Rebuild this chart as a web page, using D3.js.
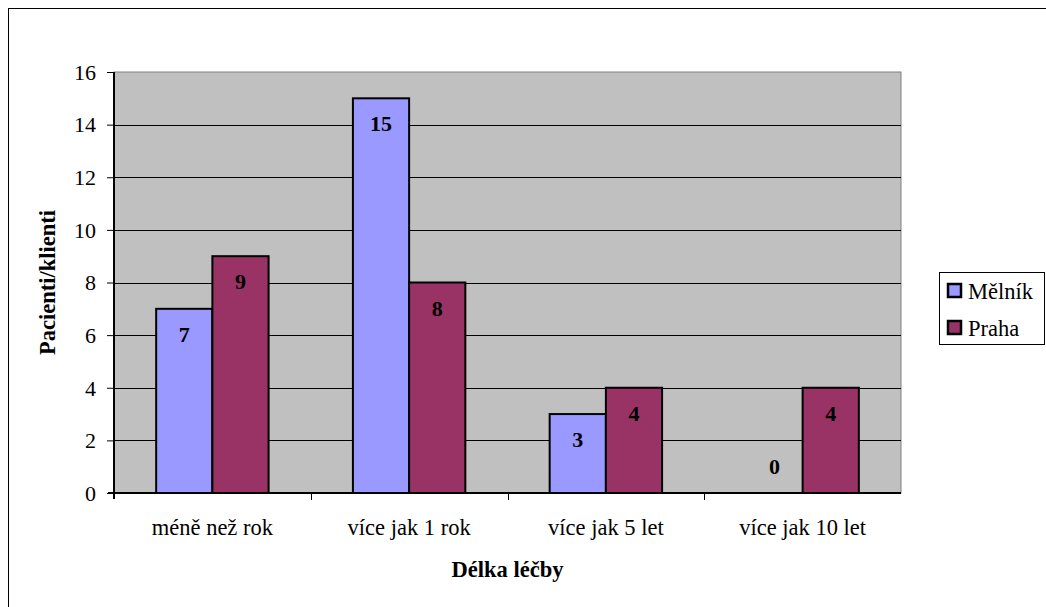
<!DOCTYPE html>
<html>
<head>
<meta charset="utf-8">
<script src="https://cdn.jsdelivr.net/npm/d3@7"></script>
<style>
  html, body { margin: 0; padding: 0; background: #fff; }
  svg { display: block; }
</style>
</head>
<body>
<svg id="chart" width="1046" height="607"></svg>
<script>
// Treatment duration categories and patient counts per clinic
const categories = ["méně než rok", "více jak 1 rok", "více jak 5 let", "více jak 10 let"];
const seriesNames = ["Mělník", "Praha"];
const melnik = [7, 15, 3, 0];
const praha = [9, 8, 4, 4];
const yTicks = [0, 2, 4, 6, 8, 10, 12, 14, 16];
const colors = ["#9999ff", "#993366"];

const FONT = "Liberation Serif";
const FS = 22.5;
const series = [melnik, praha];
const svg = d3.select("#chart").attr("font-family", FONT);

// outer frame
svg.append("rect").attr("x", 8.5).attr("y", 8.5).attr("width", 1046).attr("height", 620)
  .attr("fill", "none").attr("stroke", "#000").attr("stroke-width", 1);

const plot = { left: 114, right: 901, top: 72, bottom: 493 };

const x = d3.scaleBand().domain(categories).range([plot.left, plot.right]).paddingInner(0).paddingOuter(0);
const xs = d3.scaleBand().domain(seriesNames).range([0, x.bandwidth()]).paddingInner(0).paddingOuter(0.75);
const y = d3.scaleLinear().domain([0, 16]).range([plot.bottom, plot.top]);

// plot background
svg.append("rect").attr("x", plot.left).attr("y", plot.top)
  .attr("width", plot.right - plot.left).attr("height", plot.bottom - plot.top)
  .attr("fill", "#c0c0c0").attr("stroke", "#808080").attr("stroke-width", 1);

// horizontal gridlines
svg.append("g").selectAll("line").data(yTicks.filter(d => d > 0 && d < 16)).join("line")
  .attr("x1", plot.left).attr("x2", plot.right)
  .attr("y1", d => Math.round(y(d)) + 0.5).attr("y2", d => Math.round(y(d)) + 0.5)
  .attr("stroke", "#000").attr("stroke-width", 1);

// bars
const groups = svg.append("g").selectAll("g").data(series).join("g")
  .attr("fill", (d, i) => colors[i]);
groups.each(function (vals, si) {
  d3.select(this).selectAll("rect").data(vals).join("rect")
    .attr("x", (v, ci) => x(categories[ci]) + xs(seriesNames[si]))
    .attr("y", v => y(v))
    .attr("width", xs.bandwidth())
    .attr("height", v => y(0) - y(v))
    .attr("stroke", "#000").attr("stroke-width", 2);
});

// value labels
series.forEach((vals, si) => {
  svg.append("g").selectAll("text").data(vals).join("text")
    .attr("x", (v, ci) => x(categories[ci]) + xs(seriesNames[si]) + xs.bandwidth() / 2)
    .attr("y", v => v > 0 ? y(v) + 33 : y(v) - 19)
    .attr("text-anchor", "middle")
    .style("font-family", FONT)
    .attr("font-size", 22).attr("font-weight", "bold")
    .text(v => v);
});

// y axis
const yAxis = d3.axisLeft(y).tickValues(yTicks).tickSize(7).tickPadding(11).tickFormat(d3.format("d"));
const gy = svg.append("g").attr("transform", `translate(${plot.left},0)`).call(yAxis);
gy.attr("font-family", FONT);
gy.select(".domain").attr("stroke", "#000").attr("stroke-width", 2).attr("d", `M0,${plot.top}V${plot.bottom + 6}`);
gy.selectAll(".tick line").attr("stroke", "#000");
gy.selectAll(".tick text").attr("font-size", 22).style("font-family", FONT).attr("dy", "0.33em");

// x axis
const xAxis = d3.axisBottom(x).tickSize(0).tickPadding(26);
const gx = svg.append("g").attr("transform", `translate(0,${plot.bottom})`).call(xAxis);
gx.attr("font-family", FONT);
gx.select(".domain").attr("stroke", "#000").attr("stroke-width", 2).attr("d", `M${plot.left - 6},0H${plot.right}`);
gx.selectAll(".tick text").attr("font-size", FS).style("font-family", FONT);
svg.append("g").selectAll("line").data(categories.slice(1)).join("line")
  .attr("x1", d => Math.round(x(d)) + 0.5).attr("x2", d => Math.round(x(d)) + 0.5)
  .attr("y1", plot.bottom).attr("y2", plot.bottom + 7)
  .attr("stroke", "#000");

// axis titles
svg.append("text").attr("x", (plot.left + plot.right) / 2).attr("y", 577)
  .attr("text-anchor", "middle").attr("font-size", FS).attr("font-weight", "bold")
  .style("font-family", FONT)
  .text("Délka léčby");
svg.append("text").attr("transform", `translate(55,${(plot.top + plot.bottom) / 2}) rotate(-90)`)
  .attr("text-anchor", "middle").attr("font-size", FS).attr("font-weight", "bold")
  .style("font-family", FONT)
  .text("Pacienti/klienti");

// legend
const legend = svg.append("g").attr("transform", "translate(939,272)");
legend.append("rect").attr("x", 0.5).attr("y", 0.5).attr("width", 105).attr("height", 72)
  .attr("fill", "#fff").attr("stroke", "#000");
seriesNames.forEach((name, i) => {
  const base = 27 + i * 37;
  legend.append("rect").attr("x", 9).attr("y", base - 15).attr("width", 13).attr("height", 13)
    .attr("fill", colors[i]).attr("stroke", "#000").attr("stroke-width", 2.5);
  legend.append("text").attr("x", 29).attr("y", base).attr("font-size", FS)
    .style("font-family", FONT).text(name);
});
</script>
</body>
</html>
